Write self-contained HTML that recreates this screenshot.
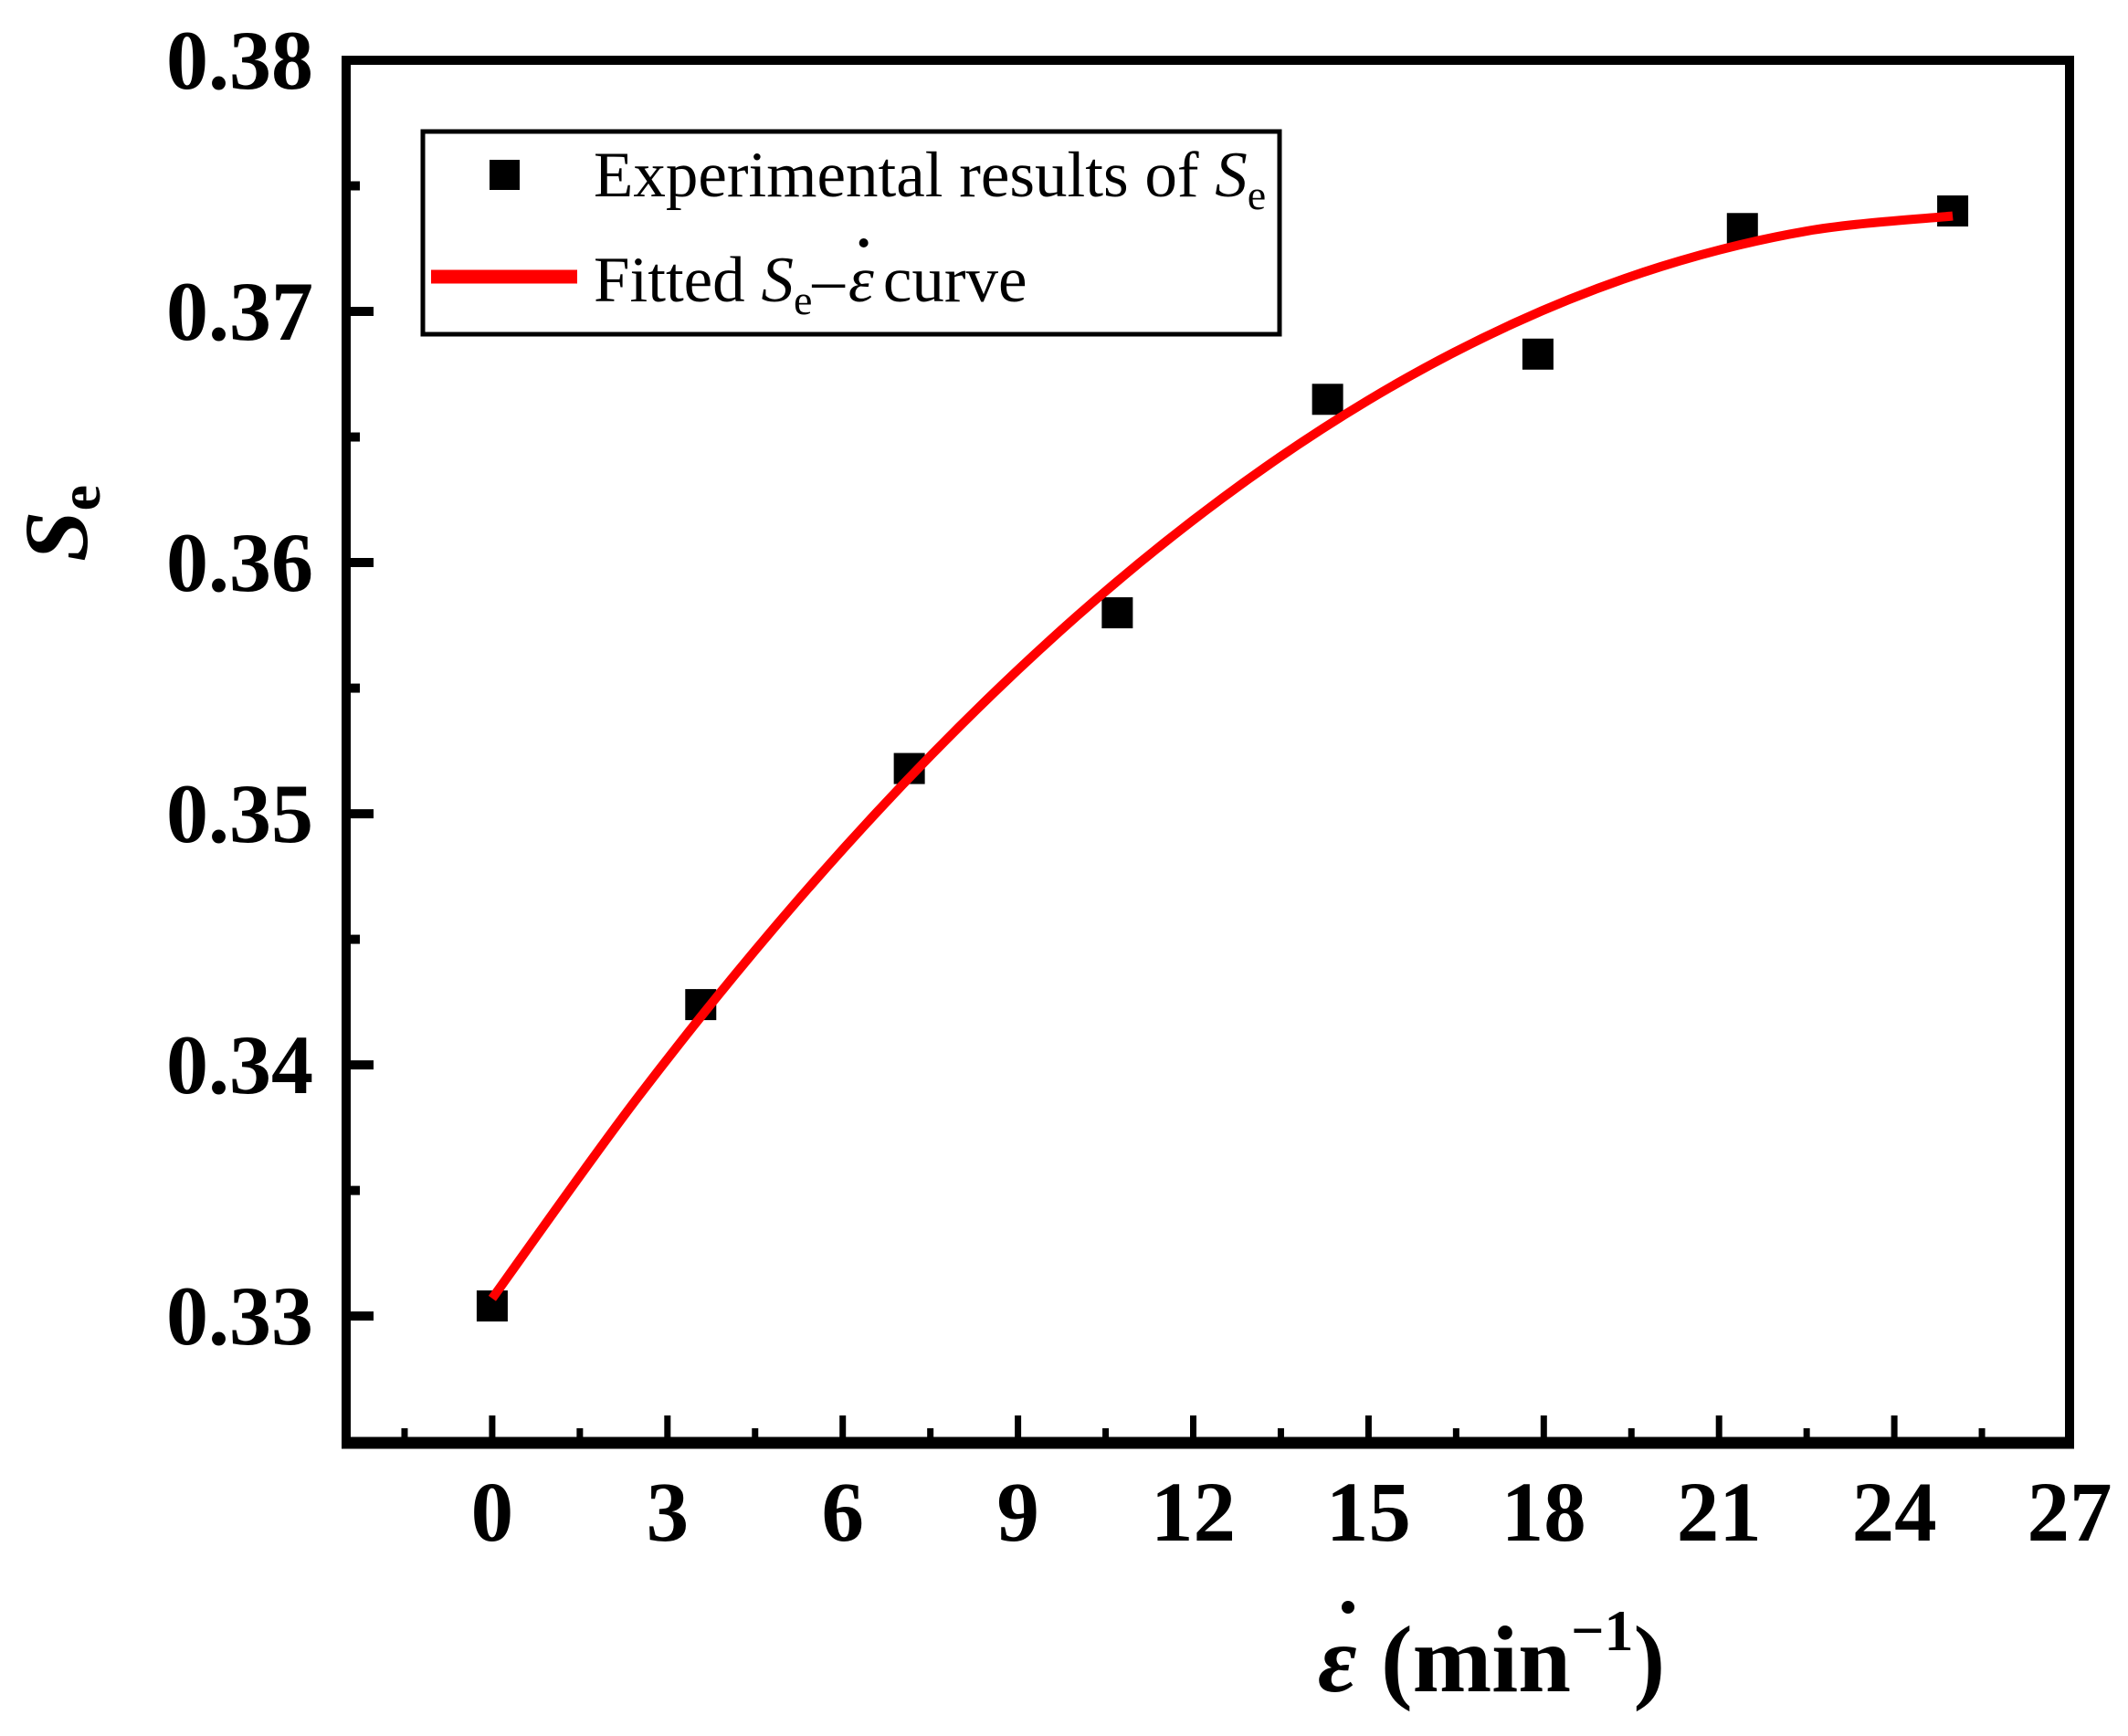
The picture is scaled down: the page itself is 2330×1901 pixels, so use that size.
<!DOCTYPE html>
<html><head><meta charset="utf-8"><style>
html,body{margin:0;padding:0;background:#fff;}
svg{display:block;font-family:"Liberation Serif",serif;}
</style></head><body>
<svg id="chart" width="2330" height="1901" viewBox="0 0 2330 1901">
<g id="plot"></g>
</svg>
<script>
const pointX = [0, 3.57, 7.14, 10.7, 14.3, 17.9, 21.4, 25];
const pointY = [0.3304, 0.3424, 0.3518, 0.3580, 0.3665, 0.3683, 0.3733, 0.3740];
const curveX = [0, 2.5, 5, 7.5, 10, 12.5, 15, 17.5, 20, 22.5, 25];
const curveY = [0.3307, 0.33873, 0.34593, 0.3523, 0.35785, 0.36257, 0.36647, 0.36954, 0.37178, 0.3732, 0.3738];
const xTicks = [0, 3, 6, 9, 12, 15, 18, 21, 24, 27];
const yTicks = [0.33, 0.34, 0.35, 0.36, 0.37, 0.38];
const yTickLabels = ["0.33", "0.34", "0.35", "0.36", "0.37", "0.38"];

const NS = "http://www.w3.org/2000/svg";
const L = 379, R = 2266, T = 66, B = 1580;
const xMin = -2.5, xMax = 27.0, yMin = 0.32495, yMax = 0.38;
function sx(v){ return L + (v - xMin) / (xMax - xMin) * (R - L); }
function sy(v){ return B - (v - yMin) / (yMax - yMin) * (B - T); }
const svg = document.getElementById('chart');
function mk(tag, attrs, parent){
  const e = document.createElementNS(NS, tag);
  for (const k in attrs) e.setAttribute(k, attrs[k]);
  (parent || svg).appendChild(e);
  return e;
}

let e = mk('rect', {x: L, y: T, width: R - L, height: B - T, fill: 'none', stroke: '#000', 'stroke-width': 10});


e = mk('line', {x1: L - 5, y1: B, x2: R + 5, y2: B, stroke: '#000', 'stroke-width': 13});



for (let i = 0; i < xTicks.length; i++) {
  const v = xTicks[i];
  e = mk('line', {x1: sx(v), y1: B, x2: sx(v), y2: B - 30, stroke: '#000', 'stroke-width': 7});
  
  
  e = mk('text', {x: sx(v), y: 1687, 'text-anchor': 'middle', 'font-size': 93, 'font-weight': 'bold'});
  e.textContent = String(v);
  
  
}
for (let i = 0; i < xTicks.length; i++) {
  const v = xTicks[i] - 1.5;
  if (v <= xMin) continue;
  e = mk('line', {x1: sx(v), y1: B, x2: sx(v), y2: B - 16, stroke: '#000', 'stroke-width': 7});
  
  
}
for (let i = 0; i < yTicks.length; i++) {
  const v = yTicks[i];
  e = mk('line', {x1: L, y1: sy(v), x2: L + 30, y2: sy(v), stroke: '#000', 'stroke-width': 10});
  
  
  e = mk('text', {x: 343, y: sy(v) + 31, 'text-anchor': 'end', 'font-size': 92, 'font-weight': 'bold'});
  e.textContent = yTickLabels[i];
  
  
  if (i > 0) {
    const m = v - 0.005;
    e = mk('line', {x1: L, y1: sy(m), x2: L + 15, y2: sy(m), stroke: '#000', 'stroke-width': 10});
    
    
  }
}

const P = curveX.map((x, i) => [sx(x), sy(curveY[i])]);
let d = 'M' + P[0][0] + ',' + P[0][1];
for (let i = 0; i < P.length - 1; i++) {
  const p0 = P[Math.max(0, i - 1)], p1 = P[i], p2 = P[i + 1], p3 = P[Math.min(P.length - 1, i + 2)];
  const c1 = [p1[0] + (p2[0] - p0[0]) / 6, p1[1] + (p2[1] - p0[1]) / 6];
  const c2 = [p2[0] - (p3[0] - p1[0]) / 6, p2[1] - (p3[1] - p1[1]) / 6];
  d += ' C' + c1.join(',') + ' ' + c2.join(',') + ' ' + p2.join(',');
}
for (let i = 0; i < pointX.length; i++) {
  e = mk('rect', {x: sx(pointX[i]) - 17, y: sy(pointY[i]) - 17, width: 34, height: 34, fill: '#000'});
  
  
}
e = mk('path', {d: d, fill: 'none', stroke: '#ff0000', 'stroke-width': 10});



// legend
const lg = mk('g', {});


e = mk('rect', {x: 463, y: 144, width: 938, height: 222, fill: '#fff', stroke: '#000', 'stroke-width': 5}, lg);


e = mk('rect', {x: 536, y: 175, width: 33, height: 33, fill: '#000'}, lg);


e = mk('line', {x1: 472, y1: 303, x2: 632, y2: 303, stroke: '#ff0000', 'stroke-width': 15}, lg);


e = mk('text', {x: 650, y: 215, 'font-size': 71}, lg);
e.innerHTML = 'Experimental results of <tspan font-style="italic">S</tspan><tspan font-size="46" dy="14">e</tspan>';


e = mk('text', {x: 650, y: 330, 'font-size': 71}, lg);
e.innerHTML = 'Fitted <tspan font-style="italic">S</tspan><tspan font-size="46" dy="14">e</tspan><tspan dy="-14">–</tspan><tspan id="leg-eps" font-style="italic" dx="4">ε</tspan><tspan dx="10">curve</tspan>';


const lb = document.getElementById('leg-eps').getBBox();
e = mk('circle', {cx: lb.x + lb.width * 0.6, cy: 266, r: 5, fill: '#000'}, lg);



// axis titles
e = mk('text', {x: 1443, y: 1852, 'font-size': 104, 'font-weight': 'bold', 'font-style': 'italic'});
e.textContent = 'ε';


e = mk('circle', {cx: 1476, cy: 1760, r: 7, fill: '#000'});


e = mk('text', {x: 1512, y: 1852, 'font-size': 104, 'font-weight': 'bold'});
e.innerHTML = '(min<tspan font-size="64" dy="-45">−1</tspan><tspan dy="45">)</tspan>';


e = mk('text', {x: 0, y: 0, 'font-size': 100, 'font-weight': 'bold', transform: 'translate(95,615) rotate(-90)'});
e.innerHTML = '<tspan font-style="italic">S</tspan><tspan font-size="64" dy="14">e</tspan>';


</script>
</body></html>
